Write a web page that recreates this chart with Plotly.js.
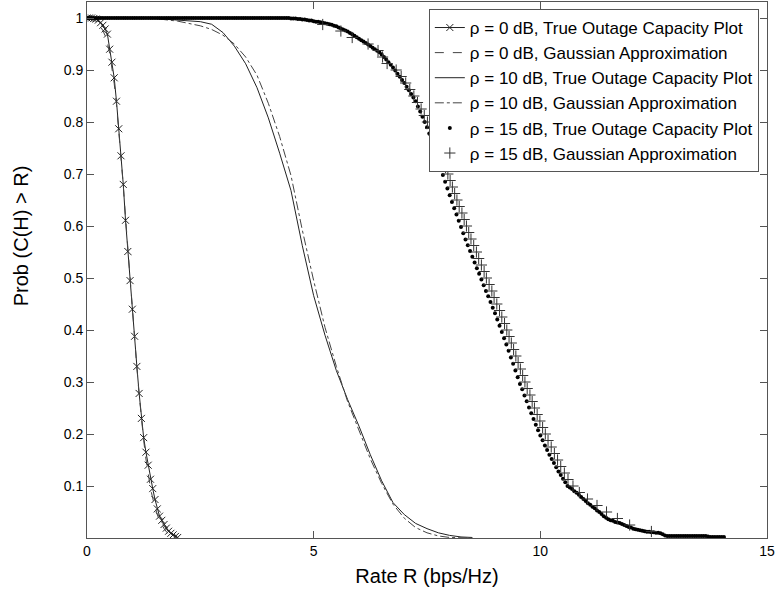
<!DOCTYPE html>
<html>
<head>
<meta charset="utf-8">
<script src="https://cdn.plot.ly/plotly-3.0.1.min.js"></script>
<style>html,body{margin:0;padding:0;background:#fff;}#chart{width:775px;height:596px;}</style>
</head>
<body>
<div id="chart"></div>
<script>
// rho = 0 dB (R grid, bps/Hz)
const R0 = [0,0.05,0.1,0.15,0.2,0.25,0.3,0.35,0.4,0.45,0.5,0.55,0.6,0.65,0.7,0.75,0.8,0.85,0.9,0.95,
  1,1.05,1.1,1.15,1.2,1.25,1.3,1.35,1.4,1.45,1.5,1.55,1.6,1.65,1.7,1.75,1.8,1.85,1.9,1.95,2];
const P0_true = [1.000,1.000,1.000,0.999,0.998,0.996,0.991,0.986,0.979,0.969,0.940,0.915,0.885,0.840,0.787,0.735,0.680,0.611,0.551,0.495,
  0.440,0.388,0.330,0.278,0.230,0.193,0.165,0.140,0.113,0.095,0.074,0.056,0.042,0.034,0.026,0.019,0.013,0.009,0.006,0.003,0.001];
const P0_gauss = [1.000,0.999,0.998,0.996,0.993,0.989,0.983,0.976,0.966,0.952,0.932,0.906,0.874,0.834,0.787,0.735,0.678,0.617,0.556,0.496,
  0.438,0.382,0.328,0.276,0.229,0.188,0.152,0.121,0.096,0.076,0.059,0.045,0.034,0.025,0.018,0.012,0.008,0.005,0.003,0.001,0.000];

// rho = 10 dB
const R10 = [0,0.5,1,1.5,2,2.25,2.5,2.75,3,3.25,3.5,3.75,4,4.25,4.5,4.75,5,5.25,5.5,5.75,6,6.25,6.5,6.75,7,7.25,7.5,7.75,8,8.25,8.5];
const P10_true = [1.000,1.000,1.000,0.999,0.996,0.995,0.993,0.988,0.972,0.946,0.912,0.866,0.808,0.740,0.668,0.562,0.466,0.390,0.322,0.266,0.215,0.160,0.110,0.068,0.045,0.028,0.018,0.010,0.005,0.002,0.001];
const P10_gauss = [1.000,1.000,1.000,0.999,0.994,0.990,0.985,0.978,0.967,0.950,0.925,0.890,0.836,0.772,0.697,0.592,0.495,0.405,0.330,0.262,0.205,0.152,0.105,0.065,0.038,0.020,0.010,0.004,0.001,0.000,0.000];

// rho = 15 dB, true outage capacity (R grid)
const R15 = [0,0.05,0.1,0.15,0.2,0.25,0.3,0.35,0.4,0.45,0.5,0.55,0.6,0.65,0.7,0.75,0.8,0.85,0.9,0.95,
  1,1.05,1.1,1.15,1.2,1.25,1.3,1.35,1.4,1.45,1.5,1.55,1.6,1.65,1.7,1.75,1.8,1.85,1.9,1.95,
  2,2.05,2.1,2.15,2.2,2.25,2.3,2.35,2.4,2.45,2.5,2.55,2.6,2.65,2.7,2.75,2.8,2.85,2.9,2.95,
  3,3.05,3.1,3.15,3.2,3.25,3.3,3.35,3.4,3.45,3.5,3.55,3.6,3.65,3.7,3.75,3.8,3.85,3.9,3.95,
  4,4.05,4.1,4.15,4.2,4.25,4.3,4.35,4.4,4.45,4.5,4.55,4.6,4.65,4.7,4.75,4.8,4.85,4.9,4.95,
  5,5.05,5.1,5.15,5.2,5.25,5.3,5.35,5.4,5.45,5.5,5.55,5.6,5.65,5.7,5.75,5.8,5.85,5.9,5.95,
  6,6.05,6.1,6.15,6.2,6.25,6.3,6.35,6.4,6.45,6.5,6.55,6.6,6.65,6.7,6.75,6.8,6.85,6.9,6.95,
  7,7.05,7.1,7.15,7.2,7.25,7.3,7.35,7.4,7.45,7.5,7.55,7.6,7.65,7.7,7.75,7.8,7.85,7.9,7.95,
  8,8.05,8.1,8.15,8.2,8.25,8.3,8.35,8.4,8.45,8.5,8.55,8.6,8.65,8.7,8.75,8.8,8.85,8.9,8.95,
  9,9.05,9.1,9.15,9.2,9.25,9.3,9.35,9.4,9.45,9.5,9.55,9.6,9.65,9.7,9.75,9.8,9.85,9.9,9.95,
  10,10.05,10.1,10.15,10.2,10.25,10.3,10.35,10.4,10.45,10.5,10.55,10.6,10.65,10.7,10.75,10.8,10.85,10.9,10.95,
  11,11.05,11.1,11.15,11.2,11.25,11.3,11.35,11.4,11.45,11.5,11.55,11.6,11.65,11.7,11.75,11.8,11.85,11.9,11.95,
  12,12.05,12.1,12.15,12.2,12.25,12.3,12.35,12.4,12.45,12.5,12.55,12.6,12.65,12.7,12.75,12.8,12.85,12.9,12.95,
  13,13.05,13.1,13.15,13.2,13.25,13.3,13.35,13.4,13.45,13.5,13.55,13.6,13.65,13.7,13.75,13.8,13.85,13.9,13.95,
  14,14.05];
const P15_true = [1,1,1,1,1,1,1,1,1,1,1,1,1,1,1,1,1,1,1,1,
  1,1,1,1,1,1,1,1,1,1,1,1,1,1,1,1,1,1,1,1,
  1,1,1,1,1,1,1,1,1,1,1,1,1,1,1,1,1,1,1,1,
  1,1,1,1,1,1,1,1,1,1,1,1,1,1,1,1,1,1,1,1,
  1,1,1,1,1,1,1,1,1,1,0.999,0.999,0.999,0.998,0.998,0.997,0.997,0.996,0.995,0.995,
  0.994,0.993,0.993,0.992,0.991,0.990,0.989,0.988,0.987,0.985,0.984,0.982,0.980,0.978,0.976,0.974,0.971,0.969,0.966,0.963,
  0.960,0.957,0.955,0.952,0.949,0.946,0.943,0.940,0.937,0.934,0.930,0.925,0.920,0.915,0.910,0.905,0.899,0.893,0.887,0.881,
  0.875,0.868,0.861,0.854,0.847,0.840,0.830,0.820,0.810,0.800,0.790,0.778,0.765,0.752,0.738,0.724,0.711,0.698,0.685,0.672,
  0.659,0.646,0.634,0.622,0.610,0.598,0.586,0.574,0.563,0.552,0.541,0.530,0.519,0.508,0.497,0.486,0.475,0.465,0.454,0.443,
  0.432,0.420,0.408,0.396,0.384,0.372,0.360,0.347,0.335,0.322,0.309,0.296,0.286,0.274,0.263,0.251,0.240,0.229,0.218,0.207,
  0.197,0.188,0.178,0.169,0.160,0.152,0.144,0.136,0.128,0.121,0.114,0.107,0.100,0.097,0.094,0.090,0.087,0.083,0.079,0.075,
  0.071,0.067,0.064,0.060,0.057,0.053,0.050,0.046,0.042,0.039,0.036,0.034,0.033,0.031,0.030,0.029,0.027,0.025,0.023,0.021,
  0.020,0.018,0.017,0.016,0.015,0.014,0.013,0.012,0.012,0.011,0.011,0.010,0.010,0.009,0.007,0.005,0.004,0.004,0.004,0.004,
  0.004,0.004,0.004,0.004,0.004,0.004,0.004,0.004,0.004,0.004,0.004,0.004,0.004,0.004,0.003,0.002,0.002,0.002,0.002,0.002,
  0.002,0.002];

// rho = 15 dB, Gaussian approximation (read at probability levels)
const P15_gauss = [0.9875,0.975,0.9625,0.95,0.9375,0.925,0.9125,0.9,0.8875,0.875,0.8625,0.85,0.8375,0.825,0.8125,0.8,
  0.7875,0.775,0.7625,0.75,0.7375,0.725,0.7125,0.7,0.6875,0.675,0.6625,0.65,0.6375,0.625,0.6125,0.6,
  0.5875,0.575,0.5625,0.55,0.5375,0.525,0.5125,0.5,0.4875,0.475,0.4625,0.45,0.4375,0.425,0.4125,0.4,
  0.3875,0.375,0.3625,0.35,0.3375,0.325,0.3125,0.3,0.2875,0.275,0.2625,0.25,0.2375,0.225,0.2125,0.2,
  0.1875,0.175,0.1625,0.15,0.1375,0.125,0.1125,0.1,0.0875,0.075,0.0625,0.05,0.0375,0.025,0.0125];
const R15_gauss = [5.20,5.60,5.85,6.20,6.42,6.52,6.62,6.82,6.93,7.03,7.12,7.21,7.29,7.37,7.44,7.51,
  7.58,7.65,7.71,7.77,7.82,7.87,7.91,7.96,8.01,8.06,8.11,8.16,8.21,8.27,8.32,8.37,
  8.42,8.47,8.53,8.59,8.64,8.70,8.76,8.81,8.87,8.93,8.98,9.04,9.10,9.15,9.21,9.26,
  9.31,9.36,9.41,9.46,9.51,9.56,9.61,9.66,9.71,9.77,9.82,9.87,9.93,9.99,10.05,10.11,
  10.17,10.24,10.31,10.38,10.45,10.53,10.61,10.72,10.86,11.04,11.25,11.46,11.70,11.97,12.45];

const legendNames = [
  'ρ = 0 dB, True Outage Capacity Plot',
  'ρ = 0 dB, Gaussian Approximation',
  'ρ = 10 dB, True Outage Capacity Plot',
  'ρ = 10 dB, Gaussian Approximation',
  'ρ = 15 dB, True Outage Capacity Plot',
  'ρ = 15 dB, Gaussian Approximation'
];
const xTicks = [0, 5, 10, 15];
const yTicks = [0.1,0.2,0.3,0.4,0.5,0.6,0.7,0.8,0.9,1];
const yTickText = ['0.1','0.2','0.3','0.4','0.5','0.6','0.7','0.8','0.9','1'];
const xTitle = 'Rate R (bps/Hz)';
const yTitle = 'Prob (C(H) > R)';

const FONT = 'Liberation Sans, Arial, Helvetica, sans-serif';
const traces = [
  {x: R0, y: P0_true, name: legendNames[0], type: 'scatter', mode: 'lines+markers',
   line: {color: '#222', width: 1}, marker: {symbol: 'x-thin-open', size: 7, color: '#222', line: {width: 1, color: '#222'}}},
  {x: R0, y: P0_gauss, name: legendNames[1], type: 'scatter', mode: 'lines',
   line: {color: '#444', width: 1, dash: 'dash'}},
  {x: R10, y: P10_true, name: legendNames[2], type: 'scatter', mode: 'lines',
   line: {color: '#222', width: 1}},
  {x: R10, y: P10_gauss, name: legendNames[3], type: 'scatter', mode: 'lines',
   line: {color: '#444', width: 1, dash: 'dashdot'}},
  {x: R15, y: P15_true, name: legendNames[4], type: 'scatter', mode: 'markers',
   marker: {symbol: 'circle', size: 4, color: '#000'}},
  {x: R15_gauss, y: P15_gauss, name: legendNames[5], type: 'scatter', mode: 'markers',
   marker: {symbol: 'cross-thin-open', size: 8, color: '#333', line: {width: 1, color: '#333'}}}
];

const axisCommon = {
  showgrid: false, zeroline: false, showline: true, linecolor: '#555', linewidth: 1,
  mirror: 'ticks', ticks: 'inside', ticklen: 7, tickcolor: '#555', tickwidth: 1,
  tickfont: {family: FONT, size: 14, color: '#000'}
};

const layout = {
  width: 775, height: 596,
  margin: {l: 87, r: 8, t: 2, b: 58, pad: 0},
  paper_bgcolor: '#fff', plot_bgcolor: '#fff',
  font: {family: FONT, color: '#000'},
  showlegend: true,
  legend: {x: 0.988, y: 0.987, xanchor: 'right', yanchor: 'top',
    bgcolor: '#fff', bordercolor: '#555', borderwidth: 1,
    font: {family: FONT, size: 17, color: '#000'}, tracegroupgap: 0},
  xaxis: Object.assign({}, axisCommon, {
    range: [0, 15], tickmode: 'array', tickvals: xTicks, ticktext: xTicks.map(String),
    title: {text: xTitle, font: {family: FONT, size: 20, color: '#000'}, standoff: 11}
  }),
  yaxis: Object.assign({}, axisCommon, {
    range: [0, 1.0308], tickmode: 'array', tickvals: yTicks, ticktext: yTickText
  }),
  // y label: sits a little above the axis middle in the reference
  annotations: [{
    text: yTitle, xref: 'paper', yref: 'paper', x: -0.097, y: 0.563,
    xanchor: 'center', yanchor: 'middle', textangle: -90, showarrow: false,
    font: {family: FONT, size: 20, color: '#000'}
  }]
};

Plotly.newPlot('chart', traces, layout, {displayModeBar: false, staticPlot: true});
</script>
</body>
</html>
